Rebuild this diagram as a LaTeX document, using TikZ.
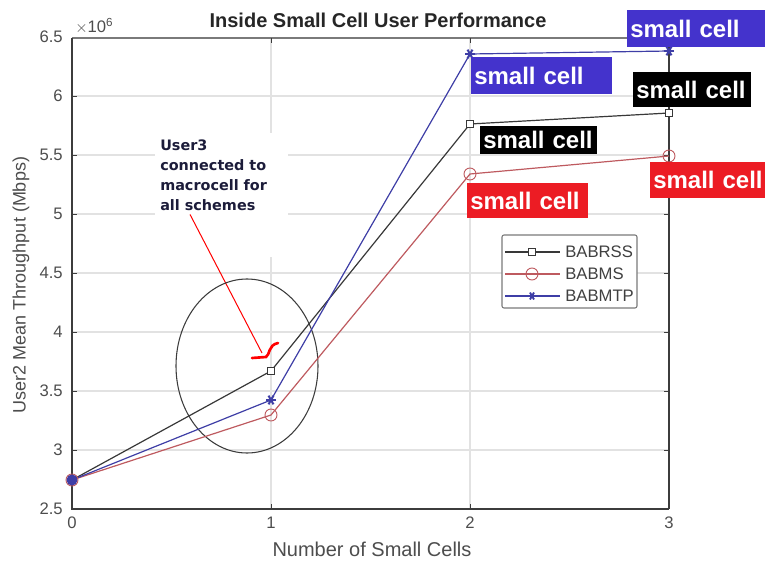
\documentclass[tikz,border=0pt]{standalone}
\usepackage{fontspec}
\setmainfont{Liberation Sans}
\newfontfamily\notefont{DejaVu Sans}
\usetikzlibrary{calc}
\definecolor{axisgray}{HTML}{3C3C3C}
\definecolor{boxgray}{HTML}{7A7A7A}
\definecolor{ticklabel}{HTML}{4D4D4D}
\definecolor{gridgray}{HTML}{E2E2E2}
\definecolor{rssline}{HTML}{383838}
\definecolor{msline}{HTML}{BE5A5F}
\definecolor{mtpline}{HTML}{3E3EA6}
\definecolor{tagblue}{HTML}{4433CC}
\definecolor{tagred}{HTML}{EC1C24}
\definecolor{notenavy}{HTML}{1C1C3A}

\begin{document}
\begin{tikzpicture}[
    x=0.75pt, y=-0.75pt,
    ticklbl/.style={font=\fontsize{12.5}{14}\selectfont, text=ticklabel, inner sep=0pt},
    tag/.style={anchor=north west, font=\fontsize{18}{20}\selectfont\bfseries, text=white, inner xsep=2.25pt, inner ysep=0pt, align=left},
    rssmark/.style={draw=rssline, fill=white, line width=0.7pt, minimum size=5.5pt, inner sep=0pt},
    msmark/.style={circle, draw=msline, line width=0.7pt, minimum size=9pt, inner sep=0pt},
    legtext/.style={anchor=west, font=\fontsize{12.5}{14}\selectfont, text=black!75, inner sep=0pt},
]
\useasboundingbox (0,0) rectangle (765,564);

% Grid
\foreach \gx in {271,470} \draw[gridgray, line width=0.8pt] (\gx,38) -- (\gx,509);
\foreach \gy in {96,155,214,273,332,391,450} \draw[gridgray, line width=0.8pt] (72,\gy) -- (669,\gy);

% Axes box and ticks
\draw[boxgray, line width=1.6pt] (72,38) -- (669,38);
\draw[axisgray, line width=1pt] (669,38) -- (669,509);
\draw[axisgray, line width=1.6pt] (72,38) -- (72,509) -- (669,509);
\foreach \gy in {96,155,214,273,332,391,450} {
  \draw[axisgray] (72,\gy) -- (77,\gy);
  \draw[axisgray] (669,\gy) -- (664,\gy);
}
\foreach \gx in {271,470} {
  \draw[axisgray] (\gx,509) -- (\gx,504);
  \draw[axisgray] (\gx,38) -- (\gx,43);
}

% Tick labels
\foreach \lbl [count=\k from 0] in {2.5,3,3.5,4,4.5,5,5.5,6,6.5}
  \node[ticklbl, anchor=east] (ylbl\k) at (63,{509-59*\k}) {\lbl};
\foreach \k in {0,1,2,3}
  \node[ticklbl] (xlbl\k) at ({72+199*\k},523) {\k};
\node[ticklbl, anchor=base west] (expo) at (75,32) {$\times$10\textsuperscript{6}};

% Titles
\node[font=\fontsize{15}{17}\selectfont\bfseries, text=black!85] (title) at (378,20) {Inside Small Cell User Performance};
\node[font=\fontsize{15}{17}\selectfont, text=ticklabel] (xlab) at (372,549) {Number of Small Cells};
\node[font=\fontsize{13.5}{16}\selectfont, text=ticklabel, rotate=90] (ylab) at (21,285) {User2 Mean Throughput (Mbps)};

% Note about User3
\fill[white] (155,133) rectangle (288,257);
\node[anchor=north west, font=\notefont\bfseries\fontsize{10.8}{15}\selectfont, text=notenavy, align=left, inner sep=0pt] (note) at (160,140) {User3\\connected to\\macrocell for\\all schemes};
\coordinate (hook) at (262,353);
\draw[red, line width=0.75pt] ($(note.south west)+(30,3)$) -- (hook);
\draw[red, line width=2pt, line cap=round] (252,358) -- (266,357) .. controls (270,355) and (268,345) .. (278,343);

% Data points
\foreach \i/\yr/\ym/\yt in {0/480/480/480, 1/371/415/400, 2/124/174/54, 3/113/156/51} {
  \coordinate (rss\i) at ({72+199*\i},\yr);
  \coordinate (ms\i) at ({72+199*\i},\ym);
  \coordinate (mtp\i) at ({72+199*\i},\yt);
}

% Ellipse round the one-cell case
\draw[axisgray, line width=0.8pt] (247,366) ellipse [x radius=71, y radius=87];

% Curves
\draw[rssline, line width=0.9pt] (rss0) -- (rss1) -- (rss2) -- (rss3);
\draw[msline, line width=0.9pt] (ms0) -- (ms1) -- (ms2) -- (ms3);
\draw[mtpline, line width=0.9pt] (mtp0) -- (mtp1) -- (mtp2) -- (mtp3);
\foreach \i in {0,1,2,3} {
  \node[rssmark] at (rss\i) {};
  \node[msmark] at (ms\i) {};
  \foreach \ang in {0,60,120}
    \draw[mtpline, line width=1.5pt] ($(mtp\i)+(\ang:5)$) -- ($(mtp\i)+(\ang+180:5)$);
}
\fill[mtpline] (mtp0) circle (5.5);

% Legend
\node[draw=boxgray, fill=white, rounded corners=1.5pt, line width=0.8pt, minimum width=101.25pt, minimum height=54.75pt, inner sep=0pt] (legend) at (569.5,271.5) {};
\draw[rssline, line width=0.9pt] (505,252) -- (560,252);
\node[rssmark] (legrss) at (532,252) {};
\node[legtext] at (565,252) {BABRSS};
\draw[msline, line width=0.9pt] (505,274) -- (560,274);
\node[msmark] (legms) at (532,274) {};
\node[legtext] at (565,274) {BABMS};
\draw[mtpline, line width=0.9pt] (505,296) -- (560,296);
\coordinate (legmtp) at (532,296);
\foreach \ang in {0,60,120}
  \draw[mtpline, line width=1.4pt] ($(legmtp)+(\ang:4)$) -- ($(legmtp)+(\ang+180:4)$);
\node[legtext] at (565,296) {BABMTP};

% Small cell tags
\node[tag, fill=tagblue, text width=99pt, minimum height=27.75pt] (tagmtp3) at (627,10) {small cell};
\node[tag, fill=tagblue, text width=101.25pt, minimum height=27.75pt] (tagmtp2) at (471,57) {small cell};
\node[tag, fill=black, text width=84pt, minimum height=26.25pt] (tagrss3) at (633,72) {small cell};
\node[tag, fill=black, text width=83.25pt, minimum height=21pt] (tagrss2) at (480,126) {small cell};
\node[tag, fill=tagred, text width=90pt, minimum height=27pt] (tagms3) at (650,162) {small cell};
\node[tag, fill=tagred, text width=86.25pt, minimum height=26.25pt] (tagms2) at (467,183) {small cell};

\end{tikzpicture}
\end{document}
